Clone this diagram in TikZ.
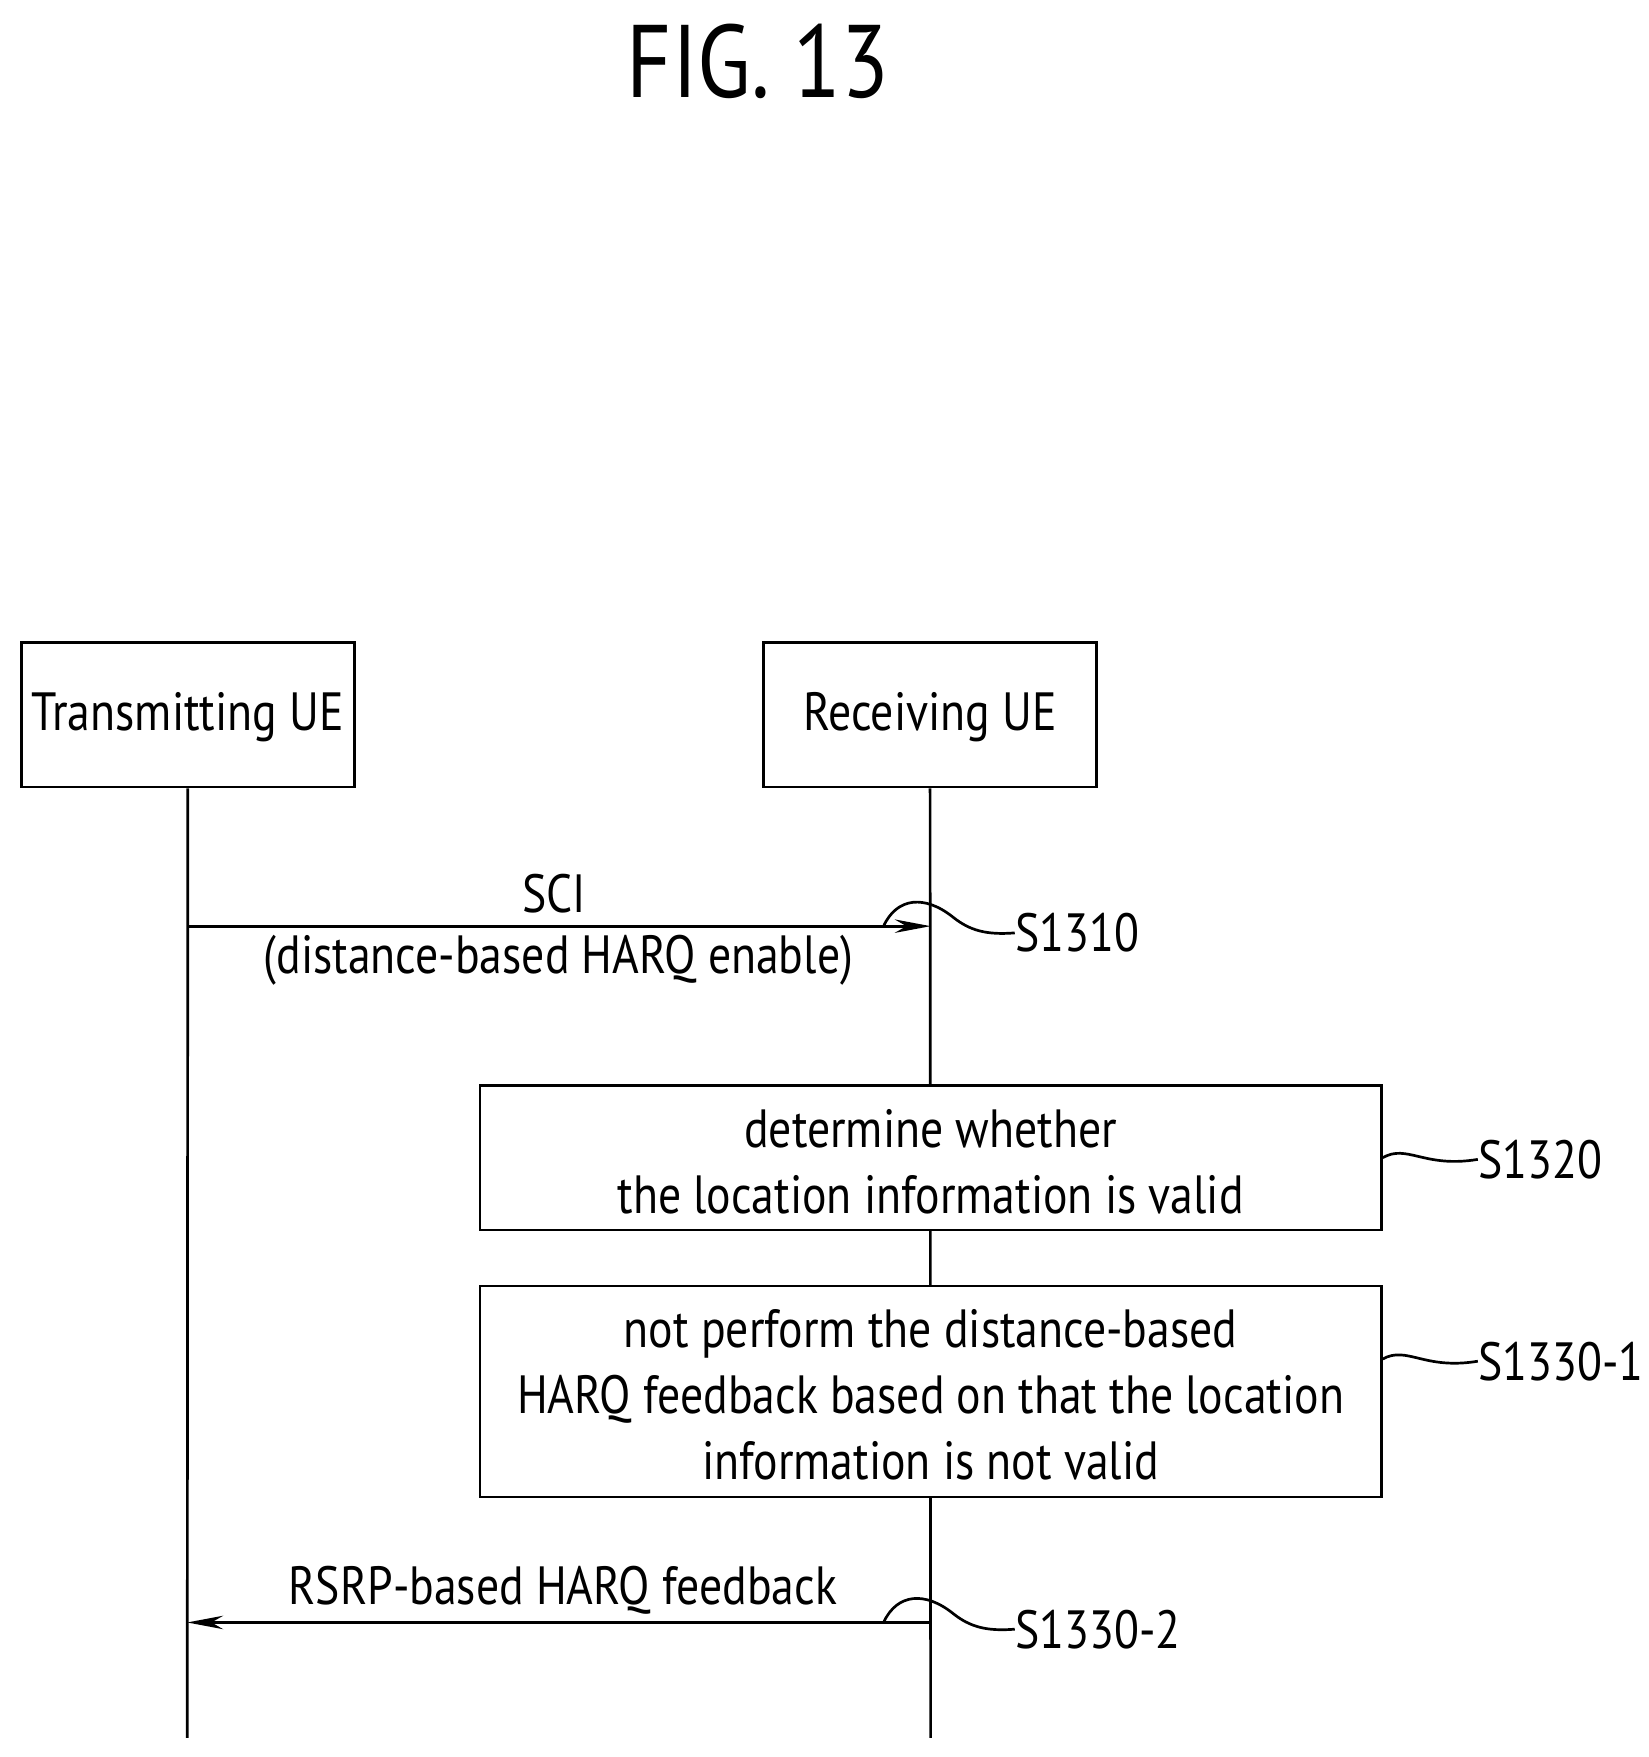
\documentclass[tikz,border=0pt]{standalone}
\usepackage{fontspec}
\setmainfont{PT Sans}[FakeStretch=0.85]
\usetikzlibrary{arrows.meta}
\begin{document}
\begin{tikzpicture}[x=0.5pt,y=-0.5pt,
  box/.style={draw,line width=1.2pt,inner sep=0pt},
  txt/.style={font=\fontsize{24}{29.5}\selectfont,align=center,inner sep=0pt},
  lab/.style={font=\fontsize{24}{29}\selectfont,anchor=west,inner sep=0pt},
  ln/.style={line width=1.2pt},
  arr/.style={ln,-{Stealth[length=16pt,width=6pt]}}]
\useasboundingbox (0,0) rectangle (1470,1567);
\node[font=\fontsize{46}{55}\selectfont,inner sep=0pt] (title) at (676,55) {FIG. 13};
\node[box,minimum width=148.5pt,minimum height=64.5pt] (tx) at (167.5,637.5) {};
\node[txt] (txl) at (167.5,640) {Transmitting UE};
\node[box,minimum width=148.5pt,minimum height=64.5pt] (rx) at (829.5,637.5) {};
\node[txt] (rxl) at (829.5,640) {Receiving UE};
\coordinate (txe) at (167,1550);
\coordinate (rxe) at (830,1550);
\coordinate (a1s) at (167,826); \coordinate (a1e) at (830,826);
\coordinate (a2s) at (830,1447); \coordinate (a2e) at (167,1447);
\draw[ln] (tx.south) -- (txe);
\draw[ln] (rx.south) -- (rxe);
\node[box,fill=white,minimum width=402pt,minimum height=64.5pt] (b1) at (830,1032.5) {};
\node[txt] (b1l) at (830,1036) {determine whether\\the location information is valid};
\node[box,fill=white,minimum width=402pt,minimum height=94pt] (b2) at (830,1241) {};
\node[txt] (b2l) at (830,1244) {not perform the distance-based\\HARQ feedback based on that the location\\information is not valid};
\draw[arr] (a1s) -- (a1e);
\node[txt] (sci) at (494,797) {SCI};
\node[txt] (scid) at (498,856) {(distance-based HARQ enable)};
\draw[arr] (a2s) -- (a2e);
\node[txt] (rsrp) at (502,1418) {RSRP-based HARQ feedback};
% squiggles
\node[lab] (s1) at (905,832) {S1310};
\draw[ln] (788,826) .. controls (800,800) and (825,798) .. (850,818) .. controls (865,830) and (880,834) .. (s1.west);
\node[lab] (s2) at (1318,1034) {S1320};
\draw[ln] (b1.east) .. controls (1255,1020) and (1270,1042) .. (s2.west);
\node[lab] (s3) at (1318,1214) {S1330-1};
\draw[ln] (b2.east |- 0,1212) .. controls (1255,1200) and (1270,1222) .. (s3.west);
\node[lab] (s4) at (905,1453) {S1330-2};
\draw[ln] (788,1447) .. controls (800,1421) and (825,1419) .. (850,1439) .. controls (865,1451) and (880,1455) .. (s4.west);
\end{tikzpicture}
\end{document}
